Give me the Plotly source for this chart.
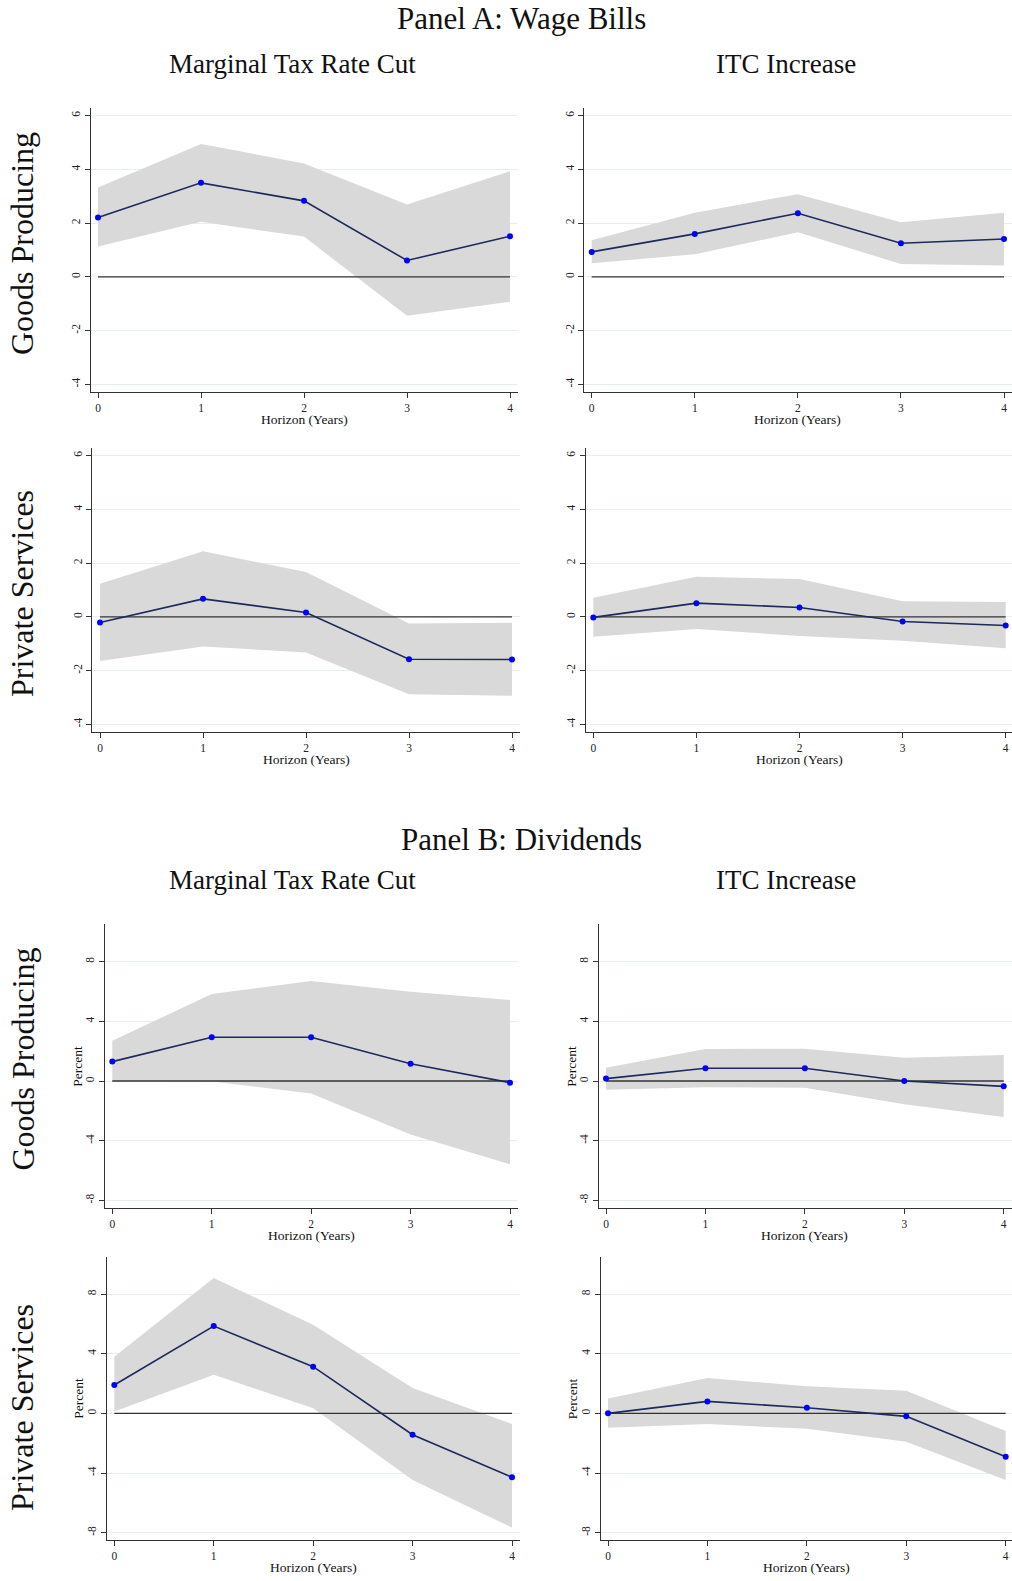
import plotly.graph_objects as go

# ---------------- data ----------------
horizon = [0, 1, 2, 3, 4]
x_tick_vals = [0, 1, 2, 3, 4]
wage_y_ticks = [-4, -2, 0, 2, 4, 6]
div_y_ticks = [-8, -4, 0, 4, 8]

panel_titles = ["Panel A: Wage Bills", "Panel B: Dividends"]
shock_titles = ["Marginal Tax Rate Cut", "ITC Increase"]
sector_titles = ["Goods Producing", "Private Services"]
x_title = "Horizon (Years)"
y_title_div = "Percent"

# Panel A: wage bills
wage_goods_mtr = [2.21, 3.50, 2.83, 0.61, 1.51]
wage_goods_mtr_hi = [3.33, 4.95, 4.22, 2.69, 3.93]
wage_goods_mtr_lo = [1.13, 2.05, 1.50, -1.45, -0.93]

wage_goods_itc = [0.93, 1.60, 2.37, 1.25, 1.41]
wage_goods_itc_hi = [1.36, 2.39, 3.08, 2.03, 2.39]
wage_goods_itc_lo = [0.51, 0.84, 1.66, 0.48, 0.42]

wage_serv_mtr = [-0.21, 0.67, 0.16, -1.58, -1.59]
wage_serv_mtr_hi = [1.23, 2.44, 1.67, -0.25, -0.22]
wage_serv_mtr_lo = [-1.64, -1.10, -1.33, -2.88, -2.94]

wage_serv_itc = [-0.02, 0.51, 0.35, -0.17, -0.32]
wage_serv_itc_hi = [0.71, 1.49, 1.41, 0.58, 0.55]
wage_serv_itc_lo = [-0.74, -0.45, -0.71, -0.89, -1.17]

# Panel B: dividends
div_goods_mtr = [1.30, 2.93, 2.93, 1.16, -0.11]
div_goods_mtr_hi = [2.70, 5.83, 6.70, 5.99, 5.43]
div_goods_mtr_lo = [0.02, -0.04, -0.83, -3.58, -5.59]

div_goods_itc = [0.16, 0.85, 0.85, 0.00, -0.36]
div_goods_itc_hi = [0.89, 2.15, 2.17, 1.56, 1.74]
div_goods_itc_lo = [-0.58, -0.42, -0.45, -1.56, -2.41]

div_serv_mtr = [1.90, 5.85, 3.13, -1.43, -4.29]
div_serv_mtr_hi = [3.80, 9.07, 5.94, 1.70, -0.72]
div_serv_mtr_lo = [0.13, 2.59, 0.34, -4.47, -7.66]

div_serv_itc = [0.00, 0.80, 0.38, -0.20, -2.91]
div_serv_itc_hi = [1.00, 2.37, 1.81, 1.52, -1.18]
div_serv_itc_lo = [-0.96, -0.72, -1.03, -1.90, -4.47]

# ---------------- layout geometry (pixels) ----------------
W, H = 1012, 1581
FONT = "Liberation Serif"

# (x0px, x4px, left, right, yhi_val, yhi_px, ylo_val, ylo_px, top, bottom)
geom = [
    (98.0, 510.0, 90.7, 518.0, 6, 115.7, -4, 384.3, 108.3, 392.3),
    (591.7, 1004.0, 584.3, 1012.0, 6, 115.7, -4, 384.3, 108.3, 392.3),
    (100.0, 512.0, 92.3, 520.0, 6, 455.7, -4, 724.3, 448.3, 732.3),
    (593.3, 1005.7, 586.0, 1012.0, 6, 455.7, -4, 724.3, 448.3, 732.3),
    (112.3, 510.0, 104.7, 518.0, 8, 961.7, -8, 1200.3, 924.3, 1207.7),
    (606.0, 1003.7, 598.7, 1012.0, 8, 961.7, -8, 1200.3, 924.3, 1207.7),
    (114.3, 512.0, 107.0, 520.0, 8, 1294.0, -8, 1532.7, 1257.0, 1540.3),
    (608.0, 1005.7, 600.7, 1012.0, 8, 1294.0, -8, 1532.7, 1257.0, 1540.3),
]

series = [
    (wage_goods_mtr, wage_goods_mtr_hi, wage_goods_mtr_lo, wage_y_ticks, False),
    (wage_goods_itc, wage_goods_itc_hi, wage_goods_itc_lo, wage_y_ticks, False),
    (wage_serv_mtr, wage_serv_mtr_hi, wage_serv_mtr_lo, wage_y_ticks, False),
    (wage_serv_itc, wage_serv_itc_hi, wage_serv_itc_lo, wage_y_ticks, False),
    (div_goods_mtr, div_goods_mtr_hi, div_goods_mtr_lo, div_y_ticks, True),
    (div_goods_itc, div_goods_itc_hi, div_goods_itc_lo, div_y_ticks, True),
    (div_serv_mtr, div_serv_mtr_hi, div_serv_mtr_lo, div_y_ticks, True),
    (div_serv_itc, div_serv_itc_hi, div_serv_itc_lo, div_y_ticks, True),
]

BAND = "#d9d9d9"
LINE = "#1c2a5c"
MARK = "#0000ff"
AXIS = "#333333"
GRID = "#e6eef0"

fig = go.Figure()
layout = dict(
    width=W, height=H,
    margin=dict(l=0, r=0, t=0, b=0),
    paper_bgcolor="white", plot_bgcolor="white",
    showlegend=False,
    font=dict(family=FONT, color="#111111"),
)
annotations = []

for i, ((est, hi, lo, yticks, is_div), g) in enumerate(zip(series, geom)):
    x0px, x4px, left, right, yhv, yhp, ylv, ylp, top, bottom = g
    k = i + 1
    xa = "x" if k == 1 else f"x{k}"
    ya = "y" if k == 1 else f"y{k}"
    ppx = (x4px - x0px) / 4.0
    xr = [(left - x0px) / ppx, (right - x0px) / ppx]
    ppy = (ylp - yhp) / (yhv - ylv)
    yr = [ylv - (bottom - ylp) / ppy, yhv + (yhp - top) / ppy]

    # confidence band
    fig.add_trace(go.Scatter(x=horizon, y=lo, mode="lines", line=dict(width=0, color=BAND),
                             xaxis=xa, yaxis=ya, hoverinfo="skip"))
    fig.add_trace(go.Scatter(x=horizon, y=hi, mode="lines", line=dict(width=0, color=BAND),
                             fill="tonexty", fillcolor=BAND, xaxis=xa, yaxis=ya, hoverinfo="skip"))
    # zero line
    fig.add_trace(go.Scatter(x=[horizon[0], horizon[-1]], y=[0, 0], mode="lines",
                             line=dict(width=1.3, color=AXIS), xaxis=xa, yaxis=ya, hoverinfo="skip"))
    # point estimates
    fig.add_trace(go.Scatter(x=horizon, y=est, mode="lines+markers",
                             line=dict(width=1.6, color=LINE),
                             marker=dict(size=6, color=MARK),
                             xaxis=xa, yaxis=ya))

    xkey = "xaxis" if k == 1 else f"xaxis{k}"
    ykey = "yaxis" if k == 1 else f"yaxis{k}"
    layout[xkey] = dict(
        domain=[left / W, min(right / W, 1.0)], range=xr, anchor=ya,
        tickvals=x_tick_vals, ticktext=[str(v) for v in x_tick_vals],
        ticks="outside", ticklen=5, tickcolor=AXIS, tickwidth=1,
        showline=True, linecolor=AXIS, linewidth=1.3,
        showgrid=False, zeroline=False,
        tickfont=dict(family=FONT, size=11.5, color="#222222"),
    )
    layout[ykey] = dict(
        domain=[1 - bottom / H, 1 - top / H], range=yr, anchor=xa,
        tickvals=yticks, ticktext=[str(v) for v in yticks],
        ticks="outside", ticklen=5, tickcolor=AXIS, tickwidth=1,
        tickangle=-90,
        showline=True, linecolor=AXIS, linewidth=1.3,
        showgrid=True, gridcolor=GRID, gridwidth=1, zeroline=False,
        tickfont=dict(family=FONT, size=11.5, color="#222222"),
    )
    # x-axis title
    annotations.append(dict(
        text=x_title, xref=xa, x=2, yref="paper", y=1 - (bottom + 27.5) / H,
        xanchor="center", yanchor="middle", showarrow=False,
        font=dict(family=FONT, size=13.5, color="#111111"),
    ))
    if is_div:
        annotations.append(dict(
            text=y_title_div, xref="paper", x=(left - 28) / W, yref="paper",
            y=1 - (top + bottom) / 2 / H, textangle=-90,
            xanchor="center", yanchor="middle", showarrow=False,
            font=dict(family=FONT, size=13.5, color="#111111"),
        ))

# panel titles
for title, yc in zip(panel_titles, [19, 839]):
    annotations.append(dict(text=title, xref="paper", x=521 / W, yref="paper", y=1 - yc / H,
                            xanchor="center", yanchor="middle", showarrow=False,
                            font=dict(family=FONT, size=31, color="#111111")))
# column titles
for yc in [64.5, 880]:
    for title, xc in zip(shock_titles, [292, 786]):
        annotations.append(dict(text=title, xref="paper", x=xc / W, yref="paper", y=1 - yc / H,
                                xanchor="center", yanchor="middle", showarrow=False,
                                font=dict(family=FONT, size=27, color="#111111")))
# row titles
for title, yc in zip(sector_titles * 2, [244, 594, 1059.5, 1408]):
    annotations.append(dict(text=title, xref="paper", x=22 / W, yref="paper", y=1 - yc / H,
                            textangle=-90, xanchor="center", yanchor="middle", showarrow=False,
                            font=dict(family=FONT, size=32, color="#111111")))

layout["annotations"] = annotations
fig.update_layout(**layout)

# remove the browser's default page margin so the figure fills the window exactly
reset_css = (
    "document.documentElement.style.margin='0';"
    "document.documentElement.style.padding='0';"
    "document.documentElement.style.overflow='hidden';"
    "document.body.style.margin='0';"
    "document.body.style.padding='0';"
    "document.body.style.overflow='hidden';"
)
fig.write_html("out.html", post_script=reset_css, config={"displayModeBar": False})
